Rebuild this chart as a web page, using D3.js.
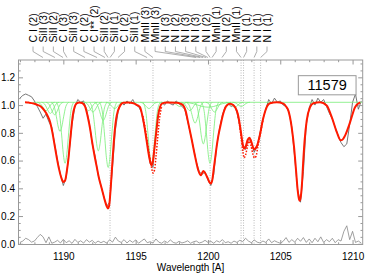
<!DOCTYPE html>
<html>
<head>
<meta charset="utf-8">
<script src="https://cdn.jsdelivr.net/npm/d3@7"></script>
<style>
  body { margin: 0; background: #fff; }
  text { font-family: "Liberation Sans", Arial, sans-serif; }
</style>
</head>
<body>
<div id="plot"></div>
<script>
// observed spectrum, sampled every 0.2 A from 1187.0 A
const specStart = 1187.0;
const specStep = 0.2;
const fluxValues = [
  1.05, 1.07, 1.08, 1.07, 1.06, 1.03, 0.99, 0.95, 0.905, 0.935,
  0.88, 0.84, 0.72, 0.60, 0.50, 0.42, 0.48, 0.66, 0.86, 0.99,
  1.04, 1.02, 1.03, 0.97, 0.87, 0.72, 0.63, 0.50, 0.42, 0.34,
  0.27, 0.30, 0.55, 0.82, 0.96, 1.02, 1.00, 1.03, 1.01, 1.04,
  1.00, 0.99, 0.95, 0.84, 0.73, 0.58, 0.55, 0.80, 0.96, 1.02,
  1.00, 1.03, 1.01, 1.00, 1.03, 1.01, 0.99, 0.97, 0.88, 0.79,
  0.69, 0.59, 0.52, 0.50, 0.52, 0.46, 0.42, 0.50, 0.70, 0.83,
  0.93, 0.99, 1.01, 0.99, 1.00, 0.95, 0.85, 0.72, 0.68, 0.76,
  0.73, 0.66, 0.70, 0.80, 0.90, 0.97, 1.04, 1.01, 1.05, 1.02,
  1.03, 1.00, 0.99, 0.95, 0.84, 0.62, 0.39, 0.30, 0.52, 0.86,
  0.98, 1.04, 1.00, 1.05, 1.02, 1.04, 0.99, 0.94, 0.90, 0.84,
  0.78, 0.73, 0.70, 0.72, 0.86, 1.02, 1.08, 0.97, 1.03
];
// residuals of the fit, same sampling
const residValues = [
  0.010, 0.020, 0.040, 0.030, 0.012, 0.020, 0.045, 0.068, 0.050, 0.008,
  0.050, 0.004, 0.012, 0.025, 0.006, 0.032, 0.008, 0.022, 0.003, 0.032,
  0.010, 0.022, 0.005, 0.030, 0.012, 0.025, 0.004, 0.020, 0.008, 0.018,
  0.005, 0.030, 0.012, 0.048, 0.020, 0.010, 0.030, 0.006, 0.025, 0.010,
  0.028, 0.004, 0.020, 0.035, 0.008, 0.015, 0.006, 0.035, 0.012, 0.004,
  0.020, 0.008, 0.028, 0.010, 0.004, 0.018, 0.006, 0.012, 0.022, 0.004,
  0.015, 0.020, 0.006, 0.012, 0.025, 0.010, 0.018, 0.004, 0.022, 0.012,
  0.030, 0.008, 0.015, 0.004, 0.020, 0.010, 0.025, 0.015, 0.040, 0.020,
  0.008, 0.028, 0.012, 0.006, 0.020, 0.010, 0.035, 0.008, 0.022, 0.012,
  0.004, 0.018, 0.045, 0.010, 0.030, 0.012, 0.040, 0.018, 0.045, 0.010,
  0.035, 0.008, 0.040, 0.015, 0.050, 0.010, 0.030, 0.015, 0.040, 0.008,
  0.030, 0.020, 0.090, 0.130, 0.030, 0.090, 0.010, 0.020, 0.005
];

// total fit (red)
const fitWave = [
  1187.35, 1187.60, 1187.95, 1188.25, 1188.50, 1188.70, 1188.90, 1189.08, 1189.25, 1189.40,
  1189.55, 1189.70, 1189.85, 1190.00, 1190.12, 1190.25, 1190.36, 1190.46, 1190.56, 1190.66,
  1190.78, 1190.92, 1191.10, 1191.30, 1191.50, 1191.70, 1191.85, 1192.00, 1192.15, 1192.30,
  1192.45, 1192.65, 1192.85, 1193.00, 1193.08, 1193.16, 1193.26, 1193.35, 1193.44, 1193.54,
  1193.65, 1193.78, 1193.95, 1194.15, 1194.50, 1194.85, 1195.10, 1195.30, 1195.45, 1195.60,
  1195.75, 1195.88, 1196.00, 1196.10, 1196.20, 1196.30, 1196.42, 1196.55, 1196.70, 1196.85,
  1197.15, 1197.85, 1198.10, 1198.30, 1198.45, 1198.64, 1198.88, 1199.11, 1199.33, 1199.50,
  1199.68, 1199.80, 1199.95, 1200.10, 1200.20, 1200.30, 1200.40, 1200.50, 1200.60, 1200.72,
  1200.88, 1201.06, 1201.30, 1201.53, 1201.75, 1201.99, 1202.10, 1202.20, 1202.30, 1202.40,
  1202.49, 1202.60, 1202.75, 1202.86, 1202.95, 1203.05, 1203.19, 1203.30, 1203.41, 1203.60,
  1203.79, 1204.02, 1204.29, 1204.76, 1205.21, 1205.40, 1205.56, 1205.79, 1205.95, 1206.09,
  1206.20, 1206.30, 1206.35, 1206.42, 1206.50, 1206.58, 1206.68, 1206.83, 1207.06, 1207.29,
  1207.75, 1208.21, 1208.56, 1208.91, 1209.18, 1209.30, 1209.48, 1209.83, 1210.17, 1210.52
];
const fitFlux = [
  1.020, 1.018, 1.012, 1.000, 0.985, 0.960, 0.925, 0.880, 0.800, 0.710,
  0.620, 0.540, 0.480, 0.446, 0.455, 0.530, 0.620, 0.730, 0.840, 0.930,
  0.985, 1.012, 1.018, 1.015, 0.990, 0.910, 0.830, 0.730, 0.640, 0.560,
  0.480, 0.400, 0.320, 0.270, 0.255, 0.270, 0.380, 0.520, 0.660, 0.800,
  0.900, 0.960, 1.000, 1.016, 1.018, 1.013, 1.000, 0.985, 0.930, 0.850,
  0.750, 0.660, 0.595, 0.566, 0.600, 0.690, 0.800, 0.920, 0.990, 1.012,
  1.018, 1.017, 1.010, 0.997, 0.960, 0.870, 0.750, 0.630, 0.530, 0.494,
  0.525, 0.510, 0.480, 0.445, 0.435, 0.460, 0.540, 0.620, 0.700, 0.780,
  0.860, 0.940, 0.997, 1.010, 1.000, 0.960, 0.920, 0.860, 0.790, 0.720,
  0.686, 0.700, 0.750, 0.765, 0.750, 0.718, 0.680, 0.690, 0.712, 0.790,
  0.890, 0.975, 1.013, 1.020, 1.010, 0.990, 0.960, 0.840, 0.700, 0.530,
  0.390, 0.320, 0.310, 0.340, 0.430, 0.580, 0.740, 0.890, 0.985, 1.013,
  1.020, 0.997, 0.913, 0.805, 0.746, 0.750, 0.780, 0.877, 0.985, 1.020
];

// alternative fit (red dotted) where it differs from the solid one
const altWaveA = [1195.50, 1195.65, 1195.80, 1195.95, 1196.08, 1196.20, 1196.30, 1196.40, 1196.52, 1196.65, 1196.80];
const altFluxA = [0.92, 0.84, 0.74, 0.64, 0.56, 0.51, 0.53, 0.62, 0.76, 0.90, 0.99];
const altWaveB = [1202.00, 1202.15, 1202.30, 1202.42, 1202.50, 1202.60, 1202.75, 1202.86, 1202.97, 1203.10, 1203.22, 1203.32, 1203.45, 1203.60, 1203.80];
const altFluxB = [0.96, 0.88, 0.76, 0.66, 0.62, 0.64, 0.71, 0.74, 0.71, 0.65, 0.62, 0.63, 0.70, 0.78, 0.89];

// single components (green), [wavelength, flux]
const greenComps = [
  [[1188.20,1.02],[1188.40,1.011],[1188.55,0.99],[1188.68,0.969],[1188.80,0.96],[1188.92,0.969],[1189.05,0.99],[1189.20,1.011],[1189.40,1.02]],
  [[1188.50,1.02],[1188.70,1.008],[1188.85,0.98],[1188.98,0.952],[1189.10,0.94],[1189.22,0.952],[1189.35,0.98],[1189.50,1.008],[1189.70,1.02]],
  [[1188.80,1.02],[1189.00,1.007],[1189.15,0.975],[1189.28,0.944],[1189.40,0.93],[1189.52,0.944],[1189.65,0.975],[1189.80,1.007],[1190.00,1.02]],
  [[1189.17,1.02],[1189.37,0.989],[1189.52,0.915],[1189.65,0.842],[1189.77,0.81],[1189.89,0.842],[1190.02,0.915],[1190.17,0.989],[1190.37,1.02]],
  [[1189.52,1.02],[1189.72,0.954],[1189.87,0.80],[1190.00,0.646],[1190.12,0.58],[1190.24,0.646],[1190.37,0.80],[1190.52,0.954],[1190.72,1.02]],
  [[1191.15,1.02],[1191.35,1.011],[1191.50,0.99],[1191.63,0.969],[1191.75,0.96],[1191.87,0.969],[1192.00,0.99],[1192.15,1.011],[1192.35,1.02]],
  [[1191.45,1.02],[1191.65,1.01],[1191.80,0.985],[1191.93,0.961],[1192.05,0.95],[1192.17,0.961],[1192.30,0.985],[1192.45,1.01],[1192.65,1.02]],
  [[1191.82,1.02],[1192.02,0.968],[1192.17,0.845],[1192.30,0.723],[1192.42,0.67],[1192.54,0.723],[1192.67,0.845],[1192.82,0.968],[1193.02,1.02]],
  [[1192.16,1.02],[1192.36,1.00],[1192.51,0.955],[1192.64,0.91],[1192.76,0.89],[1192.88,0.91],[1193.01,0.955],[1193.16,1.00],[1193.36,1.02]],
  [[1192.50,1.02],[1192.70,0.95],[1192.85,0.785],[1192.98,0.62],[1193.10,0.55],[1193.22,0.62],[1193.35,0.785],[1193.50,0.95],[1193.70,1.02]],
  [[1192.95,1.02],[1193.15,1.013],[1193.30,0.998],[1193.43,0.982],[1193.55,0.975],[1193.67,0.982],[1193.80,0.998],[1193.95,1.013],[1194.15,1.02]],
  [[1195.32,1.02],[1195.52,1.013],[1195.67,0.998],[1195.80,0.982],[1195.92,0.975],[1196.04,0.982],[1196.17,0.998],[1196.32,1.013],[1196.52,1.02]],
  [[1195.50,1.02],[1195.70,0.953],[1195.85,0.795],[1195.98,0.638],[1196.10,0.57],[1196.22,0.638],[1196.35,0.795],[1196.50,0.953],[1196.70,1.02]],
  [[1197.45,1.02],[1197.65,1.016],[1197.80,1.005],[1197.93,0.995],[1198.05,0.99],[1198.17,0.995],[1198.30,1.005],[1198.45,1.016],[1198.65,1.02]],
  [[1198.15,1.02],[1198.35,1.011],[1198.50,0.99],[1198.63,0.969],[1198.75,0.96],[1198.87,0.969],[1199.00,0.99],[1199.15,1.011],[1199.35,1.02]],
  [[1198.51,1.02],[1198.71,0.998],[1198.86,0.945],[1198.99,0.893],[1199.11,0.87],[1199.23,0.893],[1199.36,0.945],[1199.51,0.998],[1199.71,1.02]],
  [[1199.08,1.02],[1199.28,0.975],[1199.43,0.87],[1199.56,0.765],[1199.68,0.72],[1199.80,0.765],[1199.93,0.87],[1200.08,0.975],[1200.28,1.02]],
  [[1199.54,1.02],[1199.74,0.954],[1199.89,0.80],[1200.02,0.646],[1200.14,0.58],[1200.26,0.646],[1200.39,0.80],[1200.54,0.954],[1200.74,1.02]],
  [[1198.40,1.02],[1199.00,1.01],[1199.60,0.99],[1200.00,0.985],[1200.40,0.99],[1201.00,1.01],[1201.60,1.02]],
  [[1199.85,1.02],[1200.05,1.01],[1200.20,0.985],[1200.33,0.961],[1200.45,0.95],[1200.57,0.961],[1200.70,0.985],[1200.85,1.01],[1201.05,1.02]],
  [[1201.25,1.02],[1201.45,1.015],[1201.60,1.003],[1201.73,0.99],[1201.85,0.985],[1201.97,0.99],[1202.10,1.003],[1202.25,1.015],[1202.45,1.02]],
  [[1201.70,1.02],[1201.90,1.016],[1202.05,1.005],[1202.18,0.995],[1202.30,0.99],[1202.42,0.995],[1202.55,1.005],[1202.70,1.016],[1202.90,1.02]]
];
const greenStart = 1187.92;

// marked line positions (dotted verticals)
const markedLines = [1193.23, 1196.20, 1200.15, 1202.29, 1202.46, 1203.19, 1203.64];

// line identifications along the top
const lineNames = [
  "C I (2)", "SiII (3)", "SiII (2)", "C I (3)", "SiII (3)", "C I (2)", "C I** (2)", "SiII (2)",
  "SiII (1)", "C I (2)", "SiII (1)", "MnII (3)", "MnII (3)", "N I (3)", "N I (2)", "N I (3)",
  "N I (3)", "N I (2)", "MnII (1)", "N I (2)", "MnII (1)", "N I (1)", "N I (1)", "N I (1)"
];
const lineWaves = [
  1188.59, 1189.42, 1189.98, 1190.25, 1191.50, 1192.33, 1192.88, 1193.09,
  1193.23, 1193.78, 1195.79, 1196.20, 1199.18, 1199.45, 1199.66, 1199.87,
  1200.00, 1200.15, 1200.28, 1200.97, 1202.29, 1202.46, 1203.19, 1203.64
];

const xTicks = [1190, 1195, 1200, 1205, 1210];
const yTicks = [0.0, 0.2, 0.4, 0.6, 0.8, 1.0, 1.2];
const boxLabel = "11579";

const W = 365, H = 275;
const plot = {left: 18.5, right: 362.7, top: 60, bottom: 244.5};

const svg = d3.select("div#plot")
              .append("svg")
              .attr("width", W)
              .attr("height", H)
              .style("display", "block")
              .style("background-color", "white");

const x = d3.scaleLinear().domain([1186.9, 1210.7]).range([plot.left, plot.right]);
const y = d3.scaleLinear().domain([-0.005, 1.325]).range([plot.bottom, plot.top]);

svg.append("clipPath")
   .attr("id", "clip")
   .append("rect")
   .attr("x", plot.left)
   .attr("y", plot.top)
   .attr("width", plot.right - plot.left)
   .attr("height", plot.bottom - plot.top);

const line = d3.line().x(d => x(d[0])).y(d => y(d[1]));
const smooth = d3.line().x(d => x(d[0])).y(d => y(d[1])).curve(d3.curveMonotoneX);

const spec = fluxValues.map((v, i) => [specStart + i * specStep, v]);
const resid = residValues.map((v, i) => [specStart + i * specStep, v]);
const fit = fitWave.map((w, i) => [w, fitFlux[i]]);
const altA = altWaveA.map((w, i) => [w, altFluxA[i]]);
const altB = altWaveB.map((w, i) => [w, altFluxB[i]]);

const g = svg.append("g").attr("clip-path", "url(#clip)");

// dotted markers
g.selectAll("line.mark")
 .data(markedLines)
 .enter()
 .append("line")
 .attr("class", "mark")
 .attr("x1", d => x(d))
 .attr("x2", d => x(d))
 .attr("y1", plot.top)
 .attr("y2", plot.bottom)
 .attr("stroke", "#aaa")
 .attr("stroke-width", 0.8)
 .attr("stroke-dasharray", "1,1.5");

// residuals
g.append("path")
 .attr("d", line(resid))
 .attr("fill", "none")
 .attr("stroke", "#888")
 .attr("stroke-width", 0.8);

// data
g.append("path")
 .attr("d", line(spec))
 .attr("fill", "none")
 .attr("stroke", "#666")
 .attr("stroke-width", 0.9);

// components
g.append("path")
 .attr("d", line([[greenStart, 1.02], [1210.7, 1.02]]))
 .attr("fill", "none")
 .attr("stroke", "#77ee77")
 .attr("stroke-width", 0.8);
g.selectAll("path.comp")
 .data(greenComps)
 .enter()
 .append("path")
 .attr("class", "comp")
 .attr("d", d => smooth(d))
 .attr("fill", "none")
 .attr("stroke", "#77ee77")
 .attr("stroke-width", 0.8);

// fits
g.append("path")
 .attr("d", smooth(fit))
 .attr("fill", "none")
 .attr("stroke", "#ff1a00")
 .attr("stroke-width", 2);
[altA, altB].forEach(seg => {
  g.append("path")
   .attr("d", smooth(seg))
   .attr("fill", "none")
   .attr("stroke", "#ff1a00")
   .attr("stroke-width", 1.5)
   .attr("stroke-dasharray", "1.5,1.5");
});

// axes
const xMinor = d3.range(1187, 1211).filter(v => v % 5 !== 0);
const yMinor = d3.range(0, 27).map(i => i * 0.05).filter(v => Math.abs(v * 5 - Math.round(v * 5)) > 1e-6);

function styleAxis(sel) {
  sel.select(".domain").remove();
  sel.selectAll(".tick line").attr("stroke", "#999");
  sel.selectAll("text")
     .attr("fill", "black")
     .attr("font-size", "10px")
     .attr("font-family", "'Liberation Sans', Arial, sans-serif");
}

svg.append("g")
   .attr("transform", "translate(0," + plot.bottom + ")")
   .call(d3.axisBottom(x).tickValues(xTicks).tickSize(-4.5).tickPadding(8).tickFormat(d3.format("d")))
   .call(styleAxis);
svg.append("g")
   .attr("transform", "translate(0," + plot.bottom + ")")
   .call(d3.axisBottom(x).tickValues(xMinor).tickSize(-2.2).tickFormat(""))
   .call(styleAxis);
svg.append("g")
   .attr("transform", "translate(0," + plot.top + ")")
   .call(d3.axisTop(x).tickValues(xTicks).tickSize(-4.5).tickFormat(""))
   .call(styleAxis);
svg.append("g")
   .attr("transform", "translate(0," + plot.top + ")")
   .call(d3.axisTop(x).tickValues(xMinor).tickSize(-2.2).tickFormat(""))
   .call(styleAxis);
svg.append("g")
   .attr("transform", "translate(" + plot.left + ",0)")
   .call(d3.axisLeft(y).tickValues(yTicks).tickSize(-4.5).tickPadding(3.5).tickFormat(d3.format(".1f")))
   .call(styleAxis);
svg.append("g")
   .attr("transform", "translate(" + plot.left + ",0)")
   .call(d3.axisLeft(y).tickValues(yMinor).tickSize(-2.2).tickFormat(""))
   .call(styleAxis);
svg.append("g")
   .attr("transform", "translate(" + plot.right + ",0)")
   .call(d3.axisRight(y).tickValues(yTicks).tickSize(-4.5).tickFormat(""))
   .call(styleAxis);
svg.append("g")
   .attr("transform", "translate(" + plot.right + ",0)")
   .call(d3.axisRight(y).tickValues(yMinor).tickSize(-2.2).tickFormat(""))
   .call(styleAxis);

svg.append("rect")
   .attr("x", plot.left)
   .attr("y", plot.top)
   .attr("width", plot.right - plot.left)
   .attr("height", plot.bottom - plot.top)
   .attr("fill", "none")
   .attr("stroke", "#999")
   .attr("stroke-width", 1);

svg.append("text")
   .attr("x", (plot.left + plot.right) / 2)
   .attr("y", 270.5)
   .attr("text-anchor", "middle")
   .attr("font-size", "10px")
   .text("Wavelength [A]");

// line identifications
const labelX = d3.scalePoint().domain(d3.range(lineNames.length)).range([33, 267]);
svg.selectAll("path.tie")
   .data(lineWaves)
   .enter()
   .append("path")
   .attr("class", "tie")
   .attr("d", (d, i) => "M" + labelX(i) + ",46.5 L" + labelX(i) + ",51.5 L" + x(d) + ",57.5")
   .attr("fill", "none")
   .attr("stroke", "#999")
   .attr("stroke-width", 0.8);
svg.selectAll("text.ion")
   .data(lineNames)
   .enter()
   .append("text")
   .attr("class", "ion")
   .attr("transform", (d, i) => "translate(" + (labelX(i) + 3.7) + ",42.5) rotate(-90)")
   .attr("font-size", "10.5px")
   .attr("fill", "black")
   .text(d => d);

// id box
const bx0 = x(1206.25), bx1 = x(1210.24), by0 = y(1.212), by1 = y(1.074);
svg.append("rect")
   .attr("x", bx0)
   .attr("y", by0)
   .attr("width", bx1 - bx0)
   .attr("height", by1 - by0)
   .attr("fill", "white")
   .attr("stroke", "#999")
   .attr("stroke-width", 1);
svg.append("text")
   .attr("x", (bx0 + bx1) / 2)
   .attr("y", by1 - 4.5)
   .attr("text-anchor", "middle")
   .attr("font-size", "14.5px")
   .attr("fill", "black")
   .text(boxLabel);
</script>
</body>
</html>
